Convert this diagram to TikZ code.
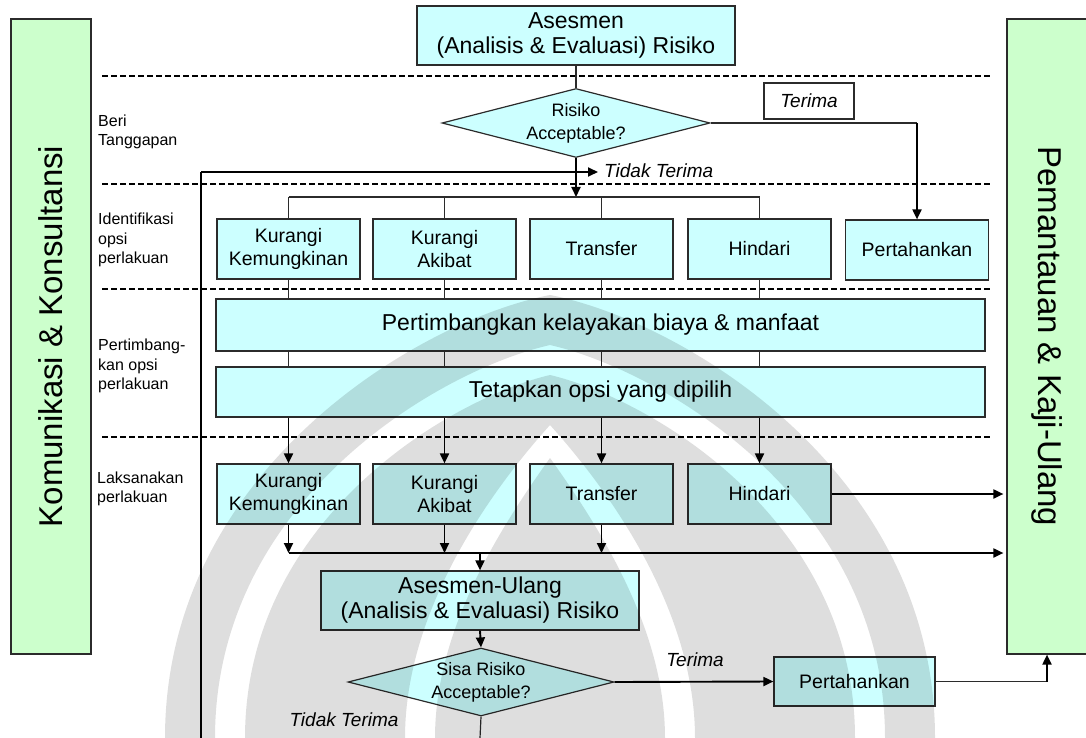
\documentclass[tikz,border=0pt]{standalone}
\usepackage{fontspec}
\setmainfont{Liberation Sans}
\usetikzlibrary{shapes.geometric,arrows.meta}
\definecolor{boxcyan}{HTML}{CCFFFF}
\definecolor{sidegreen}{HTML}{CCFFCC}
\definecolor{edge}{HTML}{2B2B2B}
\tikzset{
  box/.style={draw=edge, line width=1.2pt, fill=boxcyan, inner sep=0pt,
    align=center, font=\fontsize{19.5}{23}\selectfont},
  rowbox/.style={box, minimum width=143pt, minimum height=60pt},
  widebox/.style={box, minimum width=769pt, font=\fontsize{23}{25}\selectfont},
  bigbox/.style={box, minimum width=318pt, font=\fontsize{23}{25}\selectfont},
  decision/.style={diamond, draw=edge, line width=1.2pt, fill=boxcyan, inner sep=0pt,
    align=center, font=\fontsize{18}{23}\selectfont},
  sidebox/.style={draw=edge, line width=1.2pt, fill=sidegreen, minimum width=80pt,
    minimum height=635pt, inner sep=0pt},
  sidetext/.style={font=\fontsize{33}{36}\selectfont, inner sep=0pt},
  phase/.style={anchor=west, align=left, inner sep=0pt, font=\fontsize{16}{19.5}\selectfont},
  answer/.style={inner sep=0pt, font=\fontsize{19}{22}\selectfont\itshape},
  divider/.style={line width=1.5pt, dash pattern=on 6pt off 3pt},
  link/.style={draw=edge, line width=1.2pt},
  flow/.style={line width=1.9pt, -{Triangle[length=10pt,width=9pt]}},
  emblem/.style={fill=black, fill opacity=0.13, even odd rule},
}
\begin{document}
\begin{tikzpicture}[x=1pt,y=-1pt]
\useasboundingbox (0,0) rectangle (1086,738);

% phase dividers
\foreach \yy in {76,184,289,437}
  \draw[divider] (102,\yy) -- (992,\yy);

% side panels
\node[sidebox] (lg) at (51,336.5) {};
\node[sidetext, rotate=90] (lgt) at (lg.center) {Komunikasi \& Konsultansi};
\node[sidebox] (rg) at (1047,336.5) {};
\node[sidetext, rotate=-90] (rgt) at (rg.center) {Pemantauan \& Kaji-Ulang};

% phase labels
\node[phase] (ph1) at (98,132) {Beri\\Tanggapan};
\node[phase] (ph2) at (98,240) {Identifikasi\\opsi\\perlakuan};
\node[phase] (ph3) at (98,366) {Pertimbang-\\kan opsi\\perlakuan};
\node[phase] (ph4) at (97,489) {Laksanakan\\perlakuan};

% assessment and first decision
\node[bigbox, minimum height=59pt] (as) at (576,35.5) {Asesmen\\(Analisis \& Evaluasi) Risiko};
\node[decision, aspect=3.88, minimum width=268pt, minimum height=69pt] (d1) at (576,123) {Risiko\\Acceptable?};
\node[draw=edge, line width=1.2pt, fill=white, minimum width=90pt, minimum height=36pt,
  inner sep=0pt, font=\fontsize{19}{22}\selectfont\itshape] (acc1) at (809,101) {Terima};

% treatment options
\node[rowbox] (k1) at (288.5,249) {Kurangi\\Kemungkinan};
\node[rowbox] (a1) at (444.5,249) {Kurangi\\Akibat};
\node[rowbox] (t1) at (601.5,249) {Transfer};
\node[rowbox] (h1) at (759.5,249) {Hindari};
\node[rowbox] (p1) at (917,250) {Pertahankan};

\node[widebox, minimum height=52pt] (pk) at (600.5,325) {Pertimbangkan kelayakan biaya \& manfaat};
\node[widebox, minimum height=50pt] (tp) at (600.5,392) {Tetapkan opsi yang dipilih};

\node[rowbox] (k2) at (288.5,494) {Kurangi\\Kemungkinan};
\node[rowbox] (a2) at (444.5,494) {Kurangi\\Akibat};
\node[rowbox] (t2) at (601.5,494) {Transfer};
\node[rowbox] (h2) at (759.5,494) {Hindari};

% re-assessment
\node[bigbox, minimum height=59pt] (au) at (480,600.5) {Asesmen-Ulang\\(Analisis \& Evaluasi) Risiko};
\node[decision, aspect=3.91, minimum width=266pt, minimum height=68pt] (d2) at (481,682) {Sisa Risiko\\Acceptable?};
\node[box, minimum width=161pt, minimum height=49pt] (p2) at (854.5,681.5) {Pertahankan};

\node[answer] (acc2) at (695,660) {Terima};
\node[answer, anchor=west] (rej1) at (604,171) {Tidak Terima};
\node[answer] (rej2) at (344,720) {Tidak Terima};

% helper points
\coordinate (split) at (576,197);
\coordinate (loopbot) at (201,738);
\coordinate (loopturn) at (201,172);
\coordinate (looptip) at (598,172);
\coordinate (coll) at (289,553);
\coordinate (d2out) at (480,738);

% connectors, upper part
\draw[link] (as.south) -- (d1.north);
\draw[link] (d1.east) -- (p1.north |- d1.east);
\draw[flow] (p1.north |- d1.east) -- (p1.north);
\draw[flow] (d1.south) -- (split);
\draw[link] (k1.north |- split) -- (h1.north |- split);
\foreach \n in {k1,a1,t1,h1} {
  \draw[link] (\n.north |- split) -- (\n.north);
  \draw[link] (\n.south) -- (\n.south |- pk.north);
  \draw[link] (\n.south |- pk.south) -- (\n.south |- tp.north);
}
\foreach \a/\b in {k1/k2,a1/a2,t1/t2,h1/h2}
  \draw[flow] (\a.south |- tp.south) -- (\b.north);

% feedback loop
\draw[line width=1.3pt] (loopbot) -- (loopturn);
\draw[flow] (loopturn) -- (looptip);

% connectors, lower part
\draw[flow, shorten >=3pt] (h2.east) -- (h2.east -| rg.west);
\foreach \n in {k2,a2,t2}
  \draw[flow] (\n.south) -- (\n.south |- coll);
\draw[flow, shorten >=3pt] (coll) -- (coll -| rg.west);
\draw[flow] (au.north |- coll) -- (au.north);
\draw[flow] (au.south) -- (d2.north);
\draw[flow] (d2.east) -- (p2.west);
\draw[link] (p2.east) -- (p2.east -| rg.south);
\draw[flow] (p2.east -| rg.south) -- (rg.south);
\draw[link] (d2.south) -- (d2out);

% faint emblem laid over the lower half: an onion outline with two
% white seams inside it
\fill[emblem]
  % outer outline
  (550,295) .. controls (420,320) and (165,470) .. (165,738)
  -- (935,738) .. controls (935,470) and (680,320) .. (550,295) -- cycle
  % first seam
  (550,345) .. controls (440,370) and (215,500) .. (215,738)
  -- (885,738) .. controls (885,500) and (660,370) .. (550,345) -- cycle
  (550,375) .. controls (452,398) and (245,518) .. (245,738)
  -- (855,738) .. controls (855,518) and (648,398) .. (550,375) -- cycle
  % central leaf seam
  (550,425) .. controls (478,505) and (405,620) .. (405,738)
  -- (695,738) .. controls (695,620) and (622,505) .. (550,425) -- cycle
  (550,458) .. controls (497,532) and (435,632) .. (435,738)
  -- (665,738) .. controls (665,632) and (603,532) .. (550,458) -- cycle;
\end{tikzpicture}
\end{document}
